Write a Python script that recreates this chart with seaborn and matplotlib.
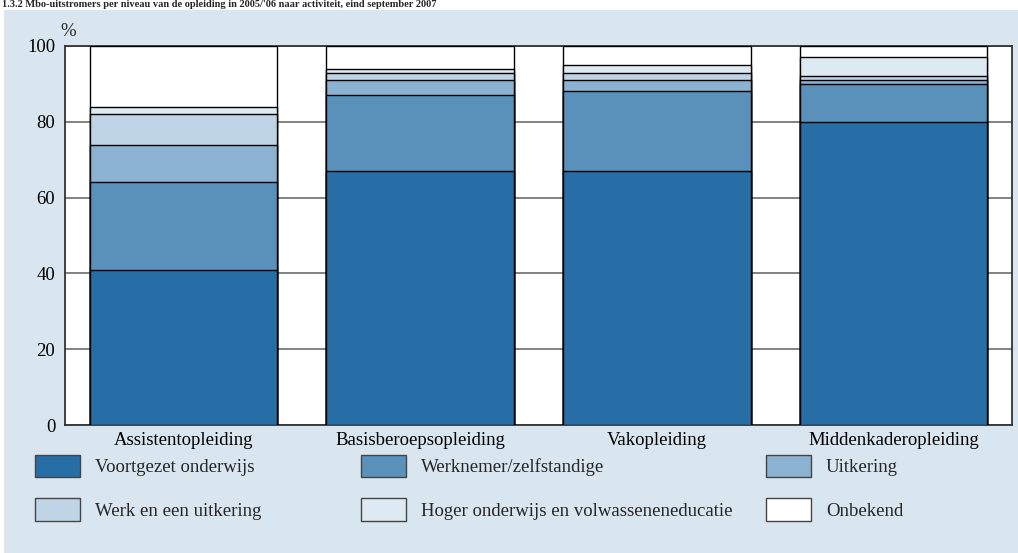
import matplotlib
matplotlib.use("Agg")
import matplotlib.pyplot as plt
import matplotlib.patches as mpatches
import pandas as pd
import seaborn as sns

# --- Data (percentages per level) ---
niveaus = ["Assistentopleiding", "Basisberoepsopleiding", "Vakopleiding", "Middenkaderopleiding"]
series = ["Voortgezet onderwijs", "Werknemer/zelfstandige", "Uitkering",
          "Werk en een uitkering", "Hoger onderwijs en volwasseneneducatie", "Onbekend"]
voortgezet = [41, 67, 67, 80]
werknemer = [23, 20, 21, 10]
uitkering = [10, 4, 3, 1]
werk_uitkering = [8, 2, 2, 1]
hoger = [2, 1, 2, 5]
onbekend = [16, 6, 5, 3]

colors = ["#276ea6", "#5a91bb", "#8bb2d0", "#bfd4e5", "#deeaf2", "#ffffff"]
panel_bg = "#d9e6f0"
fs = 13.5

sns.set_theme(style="white")
plt.rcParams['font.family'] = ['Liberation Serif', 'DejaVu Serif']

df = pd.DataFrame({"niveau": niveaus})
layers = [voortgezet, werknemer, uitkering, werk_uitkering, hoger, onbekend]
cum = []
running = [0] * len(niveaus)
for vals in layers:
    running = [r + v for r, v in zip(running, vals)]
    cum.append(list(running))

fig = plt.figure(figsize=(10.18, 5.53), dpi=100)
fig.patch.set_facecolor("white")
fig.patches.append(mpatches.Rectangle((4 / 1018, 0), 1, 1 - 10 / 553, transform=fig.transFigure,
                                      facecolor=panel_bg, edgecolor="none", zorder=-10))

ax = fig.add_axes([65 / 1018, 1 - 425 / 553, (1012 - 65) / 1018, (425 - 46) / 553])
ax.set_facecolor("white")

# draw stacked bars from the top cumulative layer down
for i in reversed(range(len(series))):
    df["cum"] = cum[i]
    sns.barplot(data=df, x="niveau", y="cum", color=colors[i], saturation=1, width=0.793,
                edgecolor="black", linewidth=1.0, ax=ax, zorder=3)

ax.set_ylim(0, 100)
ax.set_xlim(-0.5, 3.5)
ax.set_yticks([0, 20, 40, 60, 80, 100])
ax.yaxis.grid(True, color="#777777", linewidth=1.3, zorder=0)
ax.set_axisbelow(True)
ax.set_xlabel("")
ax.set_ylabel("")
ax.tick_params(axis="both", length=0, labelsize=fs, colors="black")
ax.tick_params(axis="y", pad=7)
ax.tick_params(axis="x", pad=5)
for s in ax.spines.values():
    s.set_color("#333333")
    s.set_linewidth(1.3)

fig.text(68 / 1018, 1 - 31 / 553, "%", fontsize=fs, ha="center", va="center")

# title (cut off at the top in the original; kept small so it stays readable)
fig.text(0.002, 1.0,
         "1.3.2 Mbo-uitstromers per niveau van de opleiding in 2005/'06 naar activiteit, eind september 2007",
         fontsize=7.5, fontweight="bold", ha="left", va="top")

# legend: three columns placed individually
handles = [mpatches.Patch(facecolor=c, edgecolor="#444444", linewidth=1.0) for c in colors]
col_x = [35 / 1018, 361 / 1018, 766 / 1018]
for j in range(3):
    idx = [j, j + 3]
    fig.legend([handles[k] for k in idx], [series[k] for k in idx],
               loc="upper left", bbox_to_anchor=(col_x[j], 1 - 455 / 553),
               frameon=False, fontsize=fs, handlelength=2.4, handleheight=1.45,
               handletextpad=0.8, labelspacing=1.13, borderaxespad=0, borderpad=0)

fig.savefig("out.png", dpi=100, facecolor=fig.get_facecolor())
